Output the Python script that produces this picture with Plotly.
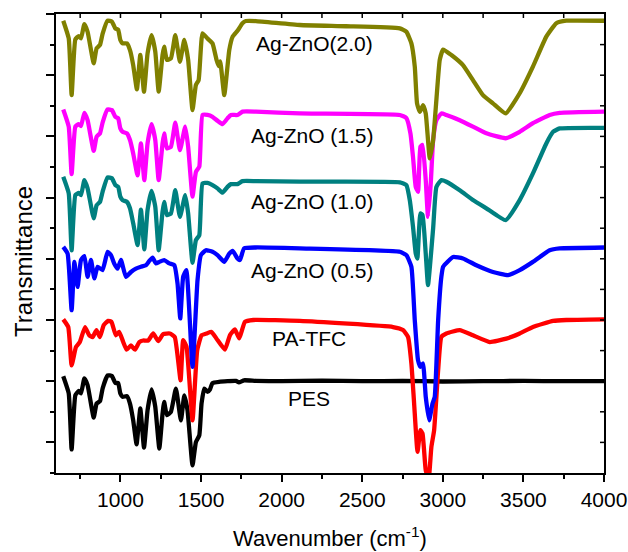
import plotly.graph_objects as go

# ---------------- data ----------------
pes_x = [645, 679, 697, 720, 741, 755, 776, 796, 834, 852, 873, 889, 920, 947, 968, 986, 999, 1013,
         1040, 1059, 1079, 1100, 1123, 1146, 1168, 1193, 1216, 1241, 1261, 1271, 1288, 1313, 1344,
         1375, 1396, 1416, 1447, 1468, 1489, 1503, 1520, 1540, 1555, 1571, 1612, 1716, 1735, 1767,
         1840, 2000, 2250, 2500, 2750, 3000, 3250, 3500, 3750, 4000]
pes_y = [3.16, 2.60, 0.77, 2.54, 2.68, 2.60, 3.09, 2.87, 1.81, 2.27, 2.35, 2.76, 3.19, 3.17, 2.94, 2.94,
         2.60, 2.49, 2.51, 2.27, 1.72, 0.94, 2.11, 0.83, 2.05, 2.73, 2.16, 0.80, 1.94, 2.32, 1.89, 2.00,
         2.76, 1.72, 2.54, 2.05, 0.25, 1.01, 1.23, 2.27, 2.76, 2.65, 2.73, 2.94, 2.98, 3.01, 2.96, 3.03,
         3.01, 3.00, 3.02, 3.00, 3.01, 2.99, 3.00, 3.01, 3.00, 3.00]

tfc_x = [645, 676, 697, 724, 748, 780, 806, 827, 851, 872, 896, 923, 944, 971, 992, 1017, 1038, 1065,
         1090, 1117, 1141, 1172, 1203, 1234, 1265, 1306, 1337, 1373, 1389, 1410, 1447, 1476, 1503,
         1534, 1565, 1596, 1648, 1679, 1710, 1737, 1772, 1824, 2113, 2691, 2753, 2784, 2805, 2822,
         2843, 2861, 2874, 2894, 2912, 2929, 2946, 2971, 2991, 3022, 3105, 3187, 3291, 3394, 3477,
         3559, 3684, 3766, 4000]
tfc_y = [5.02, 4.77, 3.52, 4.12, 4.28, 4.77, 4.50, 4.44, 4.67, 4.44, 4.83, 4.97, 4.94, 4.50, 4.61, 4.28,
         4.03, 4.17, 4.03, 4.28, 4.33, 4.33, 4.56, 4.31, 4.54, 4.56, 4.44, 3.03, 4.34, 4.12, 1.72, 4.01,
         4.50, 4.56, 4.61, 4.39, 4.03, 4.50, 4.69, 4.40, 4.94, 5.00, 4.97, 4.77, 4.67, 4.45, 3.58, 2.27,
         0.69, 1.40, 1.29, 0.09, -0.20, 0.85, 1.40, 3.36, 4.45, 4.56, 4.67, 4.50, 4.28, 4.39, 4.56,
         4.77, 4.97, 5.00, 5.02]

ag05_x = [645, 672, 697, 714, 734, 755, 776, 796, 817, 838, 858, 889, 920, 941, 961, 982, 1003, 1034,
          1065, 1096, 1127, 1158, 1179, 1199, 1220, 1241, 1271, 1303, 1334, 1354, 1371, 1389, 1409,
          1447, 1478, 1499, 1530, 1571, 1602, 1644, 1675, 1696, 1726, 1741, 1767, 1840, 2113, 2733,
          2774, 2805, 2826, 2846, 2861, 2877, 2894, 2915, 2936, 2950, 2971, 2991, 3002, 3064, 3125,
          3208, 3311, 3405, 3477, 3559, 3663, 3725, 4000]
ag05_y = [7.39, 7.17, 5.32, 6.90, 6.08, 6.96, 7.09, 6.41, 6.96, 6.36, 6.74, 6.63, 7.23, 7.12, 6.85, 6.68,
          6.96, 6.41, 6.57, 6.68, 6.74, 6.79, 6.93, 7.04, 6.85, 6.90, 6.96, 6.85, 6.79, 6.19, 5.05, 6.41,
          6.63, 3.47, 6.30, 7.12, 7.28, 7.23, 7.12, 6.90, 7.17, 7.26, 7.01, 6.96, 7.34, 7.37, 7.34, 7.23,
          7.12, 6.74, 4.99, 3.69, 3.47, 3.58, 2.49, 1.72, 2.27, 2.49, 4.99, 6.41, 6.74, 7.06, 7.01,
          6.79, 6.57, 6.47, 6.63, 6.90, 7.28, 7.34, 7.37]

ag10_x = [645, 679, 697, 720, 741, 755, 776, 796, 834, 852, 873, 889, 920, 947, 968, 986, 999, 1013,
          1040, 1059, 1079, 1106, 1127, 1148, 1168, 1193, 1216, 1237, 1261, 1271, 1288, 1313, 1340,
          1369, 1402, 1420, 1447, 1468, 1489, 1509, 1540, 1571, 1602, 1633, 1664, 1685, 1726, 1757,
          1840, 2113, 2733, 2774, 2795, 2815, 2832, 2842, 2861, 2874, 2894, 2908, 2940, 2960, 2991,
          3022, 3105, 3187, 3270, 3390, 3477, 3559, 3642, 3684, 3725, 4000]
ag10_y = [9.68, 9.14, 7.28, 9.08, 9.15, 9.08, 9.57, 9.30, 8.32, 8.75, 8.86, 9.19, 9.66, 9.63, 9.41, 9.35,
          9.03, 8.92, 8.86, 8.65, 8.16, 7.45, 8.61, 7.31, 8.59, 9.22, 8.70, 7.28, 8.54, 8.86, 8.43, 8.48,
          9.24, 8.37, 9.08, 8.48, 6.87, 7.61, 7.77, 9.46, 9.48, 9.41, 9.30, 9.16, 9.35, 9.44, 9.44, 9.54,
          9.54, 9.52, 9.50, 9.41, 8.92, 8.05, 7.17, 7.01, 8.48, 8.43, 7.17, 6.14, 8.00, 9.35, 9.57,
          9.52, 9.24, 8.92, 8.65, 8.26, 8.92, 9.79, 10.77, 11.15, 11.26, 11.28]

ag15_x = [645, 679, 697, 720, 741, 755, 776, 796, 834, 852, 873, 889, 920, 947, 968, 986, 999, 1013,
          1040, 1059, 1079, 1106, 1127, 1148, 1168, 1193, 1216, 1237, 1261, 1271, 1288, 1313, 1340,
          1369, 1402, 1420, 1447, 1468, 1489, 1509, 1540, 1571, 1602, 1633, 1664, 1685, 1726, 1757,
          1840, 2113, 2733, 2774, 2799, 2815, 2832, 2846, 2861, 2874, 2894, 2908, 2925, 2940, 2960,
          2991, 3022, 3105, 3187, 3270, 3390, 3477, 3559, 3663, 3725, 4000]
ag15_y = [11.88, 11.32, 9.77, 11.32, 11.40, 11.34, 11.77, 11.53, 10.53, 10.99, 11.10, 11.45, 11.88,
          11.86, 11.64, 11.59, 11.26, 11.15, 11.10, 10.88, 10.44, 9.73, 10.77, 9.57, 10.77, 11.40,
          10.88, 9.57, 10.77, 11.10, 10.61, 10.66, 11.45, 10.55, 11.32, 10.66, 9.03, 9.84, 10.01,
          11.70, 11.70, 11.64, 11.51, 11.40, 11.59, 11.70, 11.70, 11.81, 11.81, 11.75, 11.70, 11.60,
          11.10, 10.33, 9.35, 9.19, 10.66, 10.72, 9.57, 8.37, 9.46, 10.88, 11.53, 11.75, 11.70, 11.53,
          11.32, 11.10, 10.94, 11.15, 11.43, 11.70, 11.77, 11.81]

ag20_x = [645, 679, 697, 720, 741, 755, 776, 796, 834, 852, 873, 889, 920, 947, 968, 986, 999, 1013,
          1040, 1059, 1079, 1102, 1123, 1146, 1168, 1193, 1216, 1237, 1261, 1271, 1288, 1313, 1340,
          1369, 1396, 1420, 1447, 1468, 1485, 1509, 1540, 1571, 1596, 1609, 1619, 1644, 1675, 1696,
          1726, 1757, 1778, 1840, 2113, 2400, 2733, 2774, 2805, 2826, 2840, 2857, 2877, 2894, 2919,
          2940, 2960, 2981, 3002, 3053, 3125, 3187, 3249, 3311, 3390, 3477, 3559, 3642, 3704, 3766, 4000]
ag20_y = [14.78, 14.20, 12.35, 14.17, 14.28, 14.20, 14.67, 14.42, 13.39, 13.88, 13.99, 14.35, 14.78,
          14.75, 14.53, 14.48, 14.15, 14.04, 14.04, 13.82, 13.33, 12.54, 13.66, 12.46, 13.71, 14.31,
          13.77, 12.46, 13.66, 13.93, 13.50, 13.55, 14.31, 13.44, 14.15, 13.50, 11.86, 12.68, 12.84,
          14.37, 14.20, 14.04, 13.50, 13.30, 13.45, 12.35, 13.82, 14.26, 14.45, 14.70, 14.77, 14.77,
          14.64, 14.60, 14.53, 14.42, 14.04, 13.28, 12.08, 11.80, 12.02, 11.75, 10.28, 10.88, 12.19,
          13.50, 13.84, 13.66, 13.33, 12.84, 12.35, 12.08, 11.75, 12.41, 13.28, 14.26, 14.70, 14.78, 14.78]

series_names = ["PES", "PA-TFC", "Ag-ZnO (0.5)", "Ag-ZnO (1.0)", "Ag-ZnO (1.5)", "Ag-ZnO(2.0)"]
series_colors = ["#000000", "#FF0000", "#0000FF", "#008080", "#FF00FF", "#808000"]
series_x = [pes_x, tfc_x, ag05_x, ag10_x, ag15_x, ag20_x]
series_y = [pes_y, tfc_y, ag05_y, ag10_y, ag15_y, ag20_y]

# label positions (data coordinates)
label_x = [2172, 2172, 2190, 2190, 2193, 2206]
label_y = [2.43, 4.40, 6.62, 8.86, 11.04, 14.05]

x_range = [600, 4000]
y_range = [0, 15]
x_tickvals = [1000, 1500, 2000, 2500, 3000, 3500, 4000]
top_tick_vals = list(range(750, 4000, 250))      # inward ticks on the top frame
right_tick_vals = list(range(1, 15))             # inward ticks on the right frame

FONT = "Liberation Sans, Arial, sans-serif"
PLOT_W = 628 - 56 - 24
PLOT_H = 552 - 14 - 79

fig = go.Figure()
for name, col, xs, ys in zip(series_names, series_colors, series_x, series_y):
    fig.add_trace(go.Scatter(x=xs, y=ys, mode="lines", name=name,
                             line=dict(color=col, width=4.3, shape="spline", smoothing=0.4),
                             showlegend=False))

for name, lx, ly in zip(series_names, label_x, label_y):
    fig.add_annotation(x=lx, y=ly, text=name, showarrow=False,
                       font=dict(family=FONT, size=21, color="black"),
                       xanchor="center", yanchor="middle")

# inward frame ticks (top and right), derived from tick values
for v in top_tick_vals:
    fig.add_shape(type="line", xref="x", yref="paper", x0=v, x1=v, y0=1, y1=1 - 4 / PLOT_H,
                  line=dict(color="black", width=1.5))
for v in right_tick_vals:
    fig.add_shape(type="line", xref="paper", yref="y", x0=1, x1=1 - 4 / PLOT_W, y0=v, y1=v,
                  line=dict(color="black", width=1.5))

fig.update_layout(
    width=628, height=552,
    margin=dict(l=56, r=24, t=14, b=79, autoexpand=False),
    paper_bgcolor="white", plot_bgcolor="white",
    font=dict(family=FONT, color="black"),
    xaxis=dict(range=x_range, showgrid=False, zeroline=False, automargin=False,
               showline=True, mirror=True, linecolor="black", linewidth=2,
               ticks="outside", ticklen=7, tickwidth=1.5, tickcolor="black",
               tickvals=x_tickvals, ticktext=[str(v) for v in x_tickvals],
               ticklabeloverflow="allow",
               tickfont=dict(family=FONT, size=21, color="black"),
               minor=dict(ticks="outside", ticklen=4, tickwidth=1.5, dtick=250, tick0=0,
                          tickcolor="black", showgrid=False)),
    yaxis=dict(range=y_range, showgrid=False, zeroline=False, automargin=False,
               showline=True, mirror=True, linecolor="black", linewidth=2,
               ticks="outside", ticklen=8, tickwidth=1.5, tickcolor="black",
               tick0=1, dtick=2, showticklabels=False,
               minor=dict(ticks="outside", ticklen=4, tickwidth=1.5, dtick=1, tick0=0,
                          tickcolor="black", showgrid=False)),
)

# axis titles as annotations for precise placement
fig.add_annotation(xref="paper", yref="paper", x=0.5, y=-0.14, yanchor="middle",
                   text="Wavenumber (cm<sup>-1</sup>)", showarrow=False,
                   font=dict(family=FONT, size=22, color="black"))
fig.add_annotation(xref="paper", yref="paper", x=-0.058, y=0.46, xanchor="center",
                   text="Transmittance", textangle=-90, showarrow=False,
                   font=dict(family=FONT, size=24, color="black"))

fig.write_html("out.html")
